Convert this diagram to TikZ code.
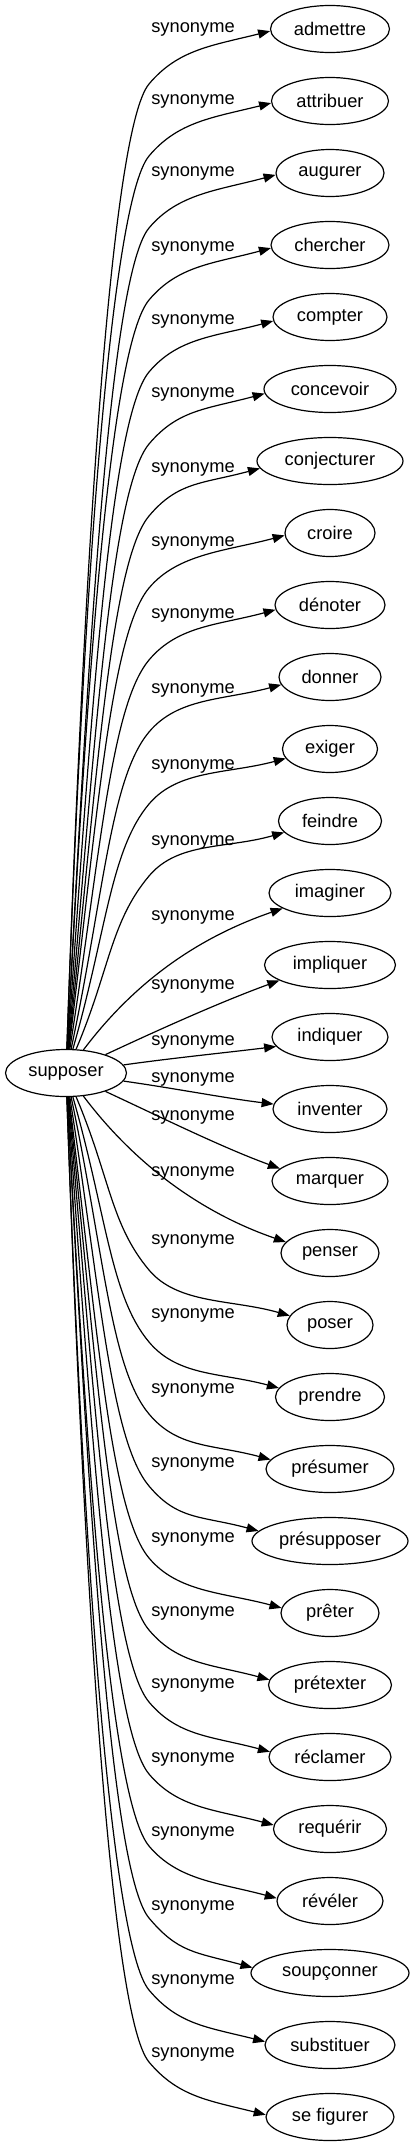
\documentclass[tikz,border=0pt]{standalone}
\usepackage{fontspec}
\setmainfont{Liberation Sans}
\usetikzlibrary{arrows.meta, shapes.geometric}
\tikzset{
  wordnode/.style = {ellipse, draw, line width=1.2pt, minimum height=47pt,
                     minimum width=#1pt, inner sep=0pt,
                     font=\fontsize{18.3}{22}\selectfont},
  synedge/.style  = {draw, line width=1.2pt,
                     -{Triangle[length=12pt, width=9pt]}},
  synlabel/.style = {font=\fontsize{18.3}{22}\selectfont, inner sep=0pt},
}

\begin{document}
\begin{tikzpicture}[x=1pt, y=1pt]
  \useasboundingbox (0,0) rectangle (415,-2147);
  \node[wordnode=121] (s) at (66,-1073) {supposer};
  \node[wordnode=119] (t1) at (330,-29) {admettre};
  \node[wordnode=117] (t2) at (330,-101) {attribuer};
  \node[wordnode=108] (t3) at (330,-173) {augurer};
  \node[wordnode=118] (t4) at (330,-245) {chercher};
  \node[wordnode=114] (t5) at (330,-317) {compter};
  \node[wordnode=132] (t6) at (330,-389) {concevoir};
  \node[wordnode=146] (t7) at (330,-461) {conjecturer};
  \node[wordnode=90]  (t8) at (330,-533) {croire};
  \node[wordnode=110] (t9) at (330,-605) {dénoter};
  \node[wordnode=102] (t10) at (330,-677) {donner};
  \node[wordnode=95]  (t11) at (330,-749) {exiger};
  \node[wordnode=103] (t12) at (330,-821) {feindre};
  \node[wordnode=122] (t13) at (330,-893) {imaginer};
  \node[wordnode=131] (t14) at (330,-965) {impliquer};
  \node[wordnode=116] (t15) at (330,-1037) {indiquer};
  \node[wordnode=114] (t16) at (330,-1109) {inventer};
  \node[wordnode=116] (t17) at (330,-1181) {marquer};
  \node[wordnode=98]  (t18) at (330,-1253) {penser};
  \node[wordnode=86]  (t19) at (330,-1325) {poser};
  \node[wordnode=109] (t20) at (330,-1397) {prendre};
  \node[wordnode=128] (t21) at (330,-1469) {présumer};
  \node[wordnode=156] (t22) at (330,-1541) {présupposer};
  \node[wordnode=98]  (t23) at (330,-1613) {prêter};
  \node[wordnode=123] (t24) at (330,-1685) {prétexter};
  \node[wordnode=122] (t25) at (330,-1757) {réclamer};
  \node[wordnode=113] (t26) at (330,-1829) {requérir};
  \node[wordnode=106] (t27) at (330,-1901) {révéler};
  \node[wordnode=158] (t28) at (330,-1973) {soupçonner};
  \node[wordnode=130] (t29) at (330,-2045) {substituer};
  \node[wordnode=128] (t30) at (330,-2117) {se figurer};
  % edges fan out from supposer, k = rank counted from the middle
  \foreach \i/\ly/\dy/\w in {1/29/2/119, 2/101/2/117, 3/173/2/108, 4/248/3/118,
      5/321/4/114, 6/394/4/132, 7/469/7/146, 8/543/2/90, 9/615/5/110,
      10/690/8/102, 11/766/9/95, 12/842/11/103, 13/917/15/122, 14/986/15/131,
      15/1042/9/116, 16/1079/-5/114, 17/1117/-12/116, 18/1173/-11/98,
      19/1241/-9/86, 20/1315/-9/109, 21/1390/-9/128, 22/1464/-10/156,
      23/1539/-5/98, 24/1613/-5/123, 25/1685/-5/122, 26/1759/-4/113,
      27/1833/-3/106, 28/1907/-5/158, 29/1981/-3/130, 30/2054/-2/128}{
    \pgfmathtruncatemacro\k{\i<16 ? 16-\i : \i-15}
    \pgfmathsetmacro\sg{\i<16 ? 1 : -1}
    \pgfmathtruncatemacro\oa{round(\sg*{8,25,53,67,74,78,81,83,84,85,86,86.5,87,87.5,88}[\k-1])}
    \pgfmathsetmacro\ia{180+\sg*{7,20,19,16,15,15,15,15,15,15,15,15,15,14,14}[\k-1]}
    \pgfmathtruncatemacro\ea{round(180+atan(\dy/((\w/2)*sqrt(1-(\dy/23.5)^2))))}
    \node[synlabel] (l\i) at (193,-\ly) {synonyme};
    \ifnum\k<4
      \pgfmathsetmacro\od{{50,65,90}[\k-1]}
      \pgfmathsetmacro\id{{50,60,85}[\k-1]}
      \draw[synedge] (s.\oa) to[out=\oa, in=\ia, out distance=\od pt,
        in distance=\id pt] (t\i.\ea);
    \else
      % knee left of the label, then into the word
      \pgfmathsetmacro\ky{-(29+72*(\i-1))-\sg*55}
      \pgfmathsetmacro\od{0.5*(72*\k-116)}
      \pgfmathsetmacro\ka{\sg*50}
      \pgfmathsetmacro\kin{180+\sg*50}
      \coordinate (k\i) at (149,\ky);
      \draw[synedge] (s.\oa) to[out=\oa, in=\kin, out distance=\od pt,
        in distance=60pt] (k\i) to[out=\ka, in=\ia, out distance=45pt,
        in distance=60pt] (t\i.\ea);
    \fi
  }
\end{tikzpicture}
\end{document}
